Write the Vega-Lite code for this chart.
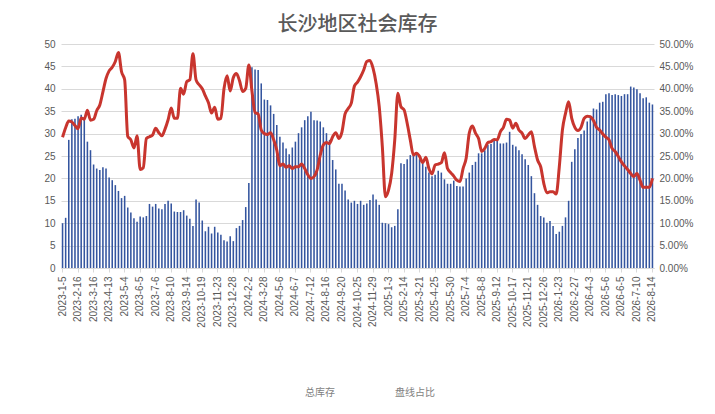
{
  "$schema": "https://vega.github.io/schema/vega-lite/v6.json",
  "width": 593,
  "height": 224,
  "autosize": {"type": "none"},
  "padding": {"left": 61, "top": 44, "right": 61, "bottom": 146},
  "background": "white",
  "title": {
    "text": "长沙地区社会库存",
    "font": "Noto Sans CJK SC",
    "fontSize": 20,
    "fontWeight": 500,
    "color": "#595959",
    "offset": 4
  },
  "config": {
    "view": {"stroke": null},
    "axis": {
      "labelFont": "Liberation Sans",
      "labelFontSize": 10,
      "labelColor": "#595959",
      "gridColor": "#D9D9D9",
      "domainColor": "#D9D9D9",
      "tickColor": "#D9D9D9"
    }
  },
  "data": {
    "values": [
      {"d": "2023-1-5", "v": 10.0, "p": 0.292},
      {"d": "2023-1-12", "v": 11.2, "p": 0.313},
      {"d": "2023-1-19", "v": 28.6, "p": 0.328},
      {"d": "2023-2-2", "v": 33.2, "p": 0.326},
      {"d": "2023-2-9", "v": 33.3, "p": 0.318},
      {"d": "2023-2-16", "v": 33.9, "p": 0.311},
      {"d": "2023-2-23", "v": 34.2, "p": 0.335},
      {"d": "2023-3-2", "v": 33.4, "p": 0.332},
      {"d": "2023-3-6", "v": 28.2, "p": 0.352},
      {"d": "2023-3-9", "v": 26.3, "p": 0.330},
      {"d": "2023-3-16", "v": 23.1, "p": 0.332},
      {"d": "2023-3-23", "v": 22.2, "p": 0.351},
      {"d": "2023-3-30", "v": 21.9, "p": 0.364},
      {"d": "2023-4-3", "v": 22.5, "p": 0.393},
      {"d": "2023-4-6", "v": 22.2, "p": 0.423},
      {"d": "2023-4-13", "v": 20.2, "p": 0.440},
      {"d": "2023-4-17", "v": 19.6, "p": 0.448},
      {"d": "2023-4-20", "v": 18.5, "p": 0.461},
      {"d": "2023-4-24", "v": 17.2, "p": 0.481},
      {"d": "2023-4-27", "v": 15.6, "p": 0.438},
      {"d": "2023-5-4", "v": 16.1, "p": 0.420},
      {"d": "2023-5-11", "v": 13.5, "p": 0.294},
      {"d": "2023-5-18", "v": 12.4, "p": 0.286},
      {"d": "2023-5-25", "v": 11.1, "p": 0.268},
      {"d": "2023-6-1", "v": 10.3, "p": 0.295},
      {"d": "2023-6-5", "v": 11.5, "p": 0.220},
      {"d": "2023-6-8", "v": 11.3, "p": 0.224},
      {"d": "2023-6-15", "v": 11.6, "p": 0.289},
      {"d": "2023-6-21", "v": 14.3, "p": 0.293},
      {"d": "2023-6-29", "v": 13.7, "p": 0.297},
      {"d": "2023-7-6", "v": 14.3, "p": 0.312},
      {"d": "2023-7-13", "v": 13.3, "p": 0.302},
      {"d": "2023-7-20", "v": 13.1, "p": 0.295},
      {"d": "2023-7-27", "v": 14.3, "p": 0.310},
      {"d": "2023-8-3", "v": 15.0, "p": 0.331},
      {"d": "2023-8-10", "v": 14.4, "p": 0.357},
      {"d": "2023-8-17", "v": 12.6, "p": 0.334},
      {"d": "2023-8-24", "v": 12.5, "p": 0.334},
      {"d": "2023-8-31", "v": 12.5, "p": 0.401},
      {"d": "2023-9-7", "v": 12.9, "p": 0.388},
      {"d": "2023-9-14", "v": 11.7, "p": 0.416},
      {"d": "2023-9-21", "v": 11.0, "p": 0.420},
      {"d": "2023-9-28", "v": 9.4, "p": 0.478},
      {"d": "2023-10-8", "v": 15.3, "p": 0.420},
      {"d": "2023-10-12", "v": 14.6, "p": 0.409},
      {"d": "2023-10-19", "v": 10.6, "p": 0.400},
      {"d": "2023-10-26", "v": 8.2, "p": 0.384},
      {"d": "2023-11-2", "v": 9.2, "p": 0.369},
      {"d": "2023-11-9", "v": 7.7, "p": 0.346},
      {"d": "2023-11-16", "v": 9.2, "p": 0.359},
      {"d": "2023-11-23", "v": 7.9, "p": 0.332},
      {"d": "2023-11-30", "v": 7.4, "p": 0.334},
      {"d": "2023-12-7", "v": 6.2, "p": 0.400},
      {"d": "2023-12-14", "v": 5.9, "p": 0.429},
      {"d": "2023-12-21", "v": 7.1, "p": 0.395},
      {"d": "2023-12-28", "v": 6.0, "p": 0.425},
      {"d": "2024-1-4", "v": 8.9, "p": 0.434},
      {"d": "2024-1-11", "v": 9.4, "p": 0.418},
      {"d": "2024-1-18", "v": 10.7, "p": 0.394},
      {"d": "2024-1-25", "v": 13.6, "p": 0.401},
      {"d": "2024-2-2", "v": 19.0, "p": 0.453},
      {"d": "2024-2-29", "v": 44.8, "p": 0.395},
      {"d": "2024-3-7", "v": 44.3, "p": 0.347},
      {"d": "2024-3-14", "v": 44.2, "p": 0.344},
      {"d": "2024-3-21", "v": 41.2, "p": 0.308},
      {"d": "2024-3-28", "v": 37.6, "p": 0.300},
      {"d": "2024-4-3", "v": 37.5, "p": 0.298},
      {"d": "2024-4-11", "v": 36.3, "p": 0.302},
      {"d": "2024-4-18", "v": 34.4, "p": 0.286},
      {"d": "2024-4-25", "v": 31.9, "p": 0.263},
      {"d": "2024-5-6", "v": 29.3, "p": 0.228},
      {"d": "2024-5-10", "v": 28.0, "p": 0.232},
      {"d": "2024-5-17", "v": 26.7, "p": 0.225},
      {"d": "2024-5-24", "v": 25.4, "p": 0.228},
      {"d": "2024-5-31", "v": 26.9, "p": 0.222},
      {"d": "2024-6-7", "v": 28.2, "p": 0.226},
      {"d": "2024-6-14", "v": 30.1, "p": 0.226},
      {"d": "2024-6-21", "v": 31.4, "p": 0.232},
      {"d": "2024-6-28", "v": 33.0, "p": 0.222},
      {"d": "2024-7-5", "v": 33.9, "p": 0.208},
      {"d": "2024-7-12", "v": 34.9, "p": 0.200},
      {"d": "2024-7-19", "v": 33.0, "p": 0.204},
      {"d": "2024-7-26", "v": 32.9, "p": 0.219},
      {"d": "2024-8-2", "v": 32.7, "p": 0.252},
      {"d": "2024-8-9", "v": 31.4, "p": 0.275},
      {"d": "2024-8-16", "v": 30.1, "p": 0.280},
      {"d": "2024-8-23", "v": 28.6, "p": 0.278},
      {"d": "2024-8-30", "v": 24.1, "p": 0.293},
      {"d": "2024-9-6", "v": 22.0, "p": 0.302},
      {"d": "2024-9-13", "v": 18.8, "p": 0.289},
      {"d": "2024-9-20", "v": 18.8, "p": 0.304},
      {"d": "2024-9-27", "v": 17.3, "p": 0.344},
      {"d": "2024-9-30", "v": 15.3, "p": 0.356},
      {"d": "2024-10-11", "v": 14.6, "p": 0.368},
      {"d": "2024-10-18", "v": 15.0, "p": 0.406},
      {"d": "2024-10-25", "v": 14.3, "p": 0.415},
      {"d": "2024-11-1", "v": 15.0, "p": 0.427},
      {"d": "2024-11-8", "v": 14.1, "p": 0.442},
      {"d": "2024-11-15", "v": 14.4, "p": 0.461},
      {"d": "2024-11-22", "v": 15.2, "p": 0.463},
      {"d": "2024-11-29", "v": 16.4, "p": 0.446},
      {"d": "2024-12-6", "v": 15.3, "p": 0.412},
      {"d": "2024-12-13", "v": 14.1, "p": 0.360},
      {"d": "2024-12-20", "v": 10.1, "p": 0.271},
      {"d": "2024-12-27", "v": 10.0, "p": 0.159},
      {"d": "2025-1-3", "v": 9.8, "p": 0.174},
      {"d": "2025-1-10", "v": 9.1, "p": 0.211},
      {"d": "2025-1-17", "v": 9.4, "p": 0.286},
      {"d": "2025-1-24", "v": 13.1, "p": 0.390},
      {"d": "2025-2-7", "v": 23.4, "p": 0.360},
      {"d": "2025-2-14", "v": 23.2, "p": 0.353},
      {"d": "2025-2-21", "v": 24.3, "p": 0.323},
      {"d": "2025-2-28", "v": 25.2, "p": 0.286},
      {"d": "2025-3-7", "v": 25.6, "p": 0.252},
      {"d": "2025-3-14", "v": 25.2, "p": 0.256},
      {"d": "2025-3-21", "v": 24.3, "p": 0.249},
      {"d": "2025-3-28", "v": 23.4, "p": 0.235},
      {"d": "2025-4-3", "v": 22.6, "p": 0.247},
      {"d": "2025-4-11", "v": 21.3, "p": 0.222},
      {"d": "2025-4-18", "v": 20.5, "p": 0.210},
      {"d": "2025-4-25", "v": 20.8, "p": 0.230},
      {"d": "2025-4-30", "v": 21.7, "p": 0.232},
      {"d": "2025-5-9", "v": 21.3, "p": 0.235},
      {"d": "2025-5-16", "v": 19.8, "p": 0.257},
      {"d": "2025-5-23", "v": 18.8, "p": 0.222},
      {"d": "2025-5-30", "v": 18.8, "p": 0.213},
      {"d": "2025-6-6", "v": 19.5, "p": 0.205},
      {"d": "2025-6-13", "v": 18.3, "p": 0.196},
      {"d": "2025-6-20", "v": 18.2, "p": 0.193},
      {"d": "2025-6-27", "v": 18.2, "p": 0.222},
      {"d": "2025-7-4", "v": 20.0, "p": 0.245},
      {"d": "2025-7-11", "v": 21.3, "p": 0.301},
      {"d": "2025-7-18", "v": 23.0, "p": 0.317},
      {"d": "2025-7-25", "v": 23.7, "p": 0.301},
      {"d": "2025-8-1", "v": 25.6, "p": 0.289},
      {"d": "2025-8-8", "v": 25.6, "p": 0.260},
      {"d": "2025-8-15", "v": 26.3, "p": 0.267},
      {"d": "2025-8-22", "v": 27.5, "p": 0.280},
      {"d": "2025-8-29", "v": 27.7, "p": 0.282},
      {"d": "2025-9-5", "v": 28.6, "p": 0.287},
      {"d": "2025-9-12", "v": 28.7, "p": 0.286},
      {"d": "2025-9-19", "v": 27.8, "p": 0.304},
      {"d": "2025-9-26", "v": 27.8, "p": 0.314},
      {"d": "2025-9-30", "v": 28.0, "p": 0.332},
      {"d": "2025-10-10", "v": 30.4, "p": 0.330},
      {"d": "2025-10-17", "v": 27.5, "p": 0.312},
      {"d": "2025-10-24", "v": 27.1, "p": 0.323},
      {"d": "2025-10-31", "v": 26.3, "p": 0.308},
      {"d": "2025-11-7", "v": 25.4, "p": 0.301},
      {"d": "2025-11-14", "v": 24.3, "p": 0.289},
      {"d": "2025-11-21", "v": 23.0, "p": 0.297},
      {"d": "2025-11-28", "v": 20.5, "p": 0.304},
      {"d": "2025-12-5", "v": 16.7, "p": 0.271},
      {"d": "2025-12-12", "v": 14.1, "p": 0.241},
      {"d": "2025-12-19", "v": 11.6, "p": 0.226},
      {"d": "2025-12-26", "v": 11.3, "p": 0.189},
      {"d": "2025-12-31", "v": 10.1, "p": 0.168},
      {"d": "2026-1-6", "v": 10.5, "p": 0.170},
      {"d": "2026-1-9", "v": 9.4, "p": 0.170},
      {"d": "2026-1-16", "v": 7.6, "p": 0.165},
      {"d": "2026-1-23", "v": 8.1, "p": 0.226},
      {"d": "2026-1-30", "v": 9.4, "p": 0.308},
      {"d": "2026-2-6", "v": 11.3, "p": 0.345},
      {"d": "2026-2-13", "v": 15.0, "p": 0.371},
      {"d": "2026-2-24", "v": 23.7, "p": 0.334},
      {"d": "2026-2-27", "v": 26.5, "p": 0.314},
      {"d": "2026-3-6", "v": 29.0, "p": 0.307},
      {"d": "2026-3-13", "v": 29.9, "p": 0.314},
      {"d": "2026-3-20", "v": 30.7, "p": 0.334},
      {"d": "2026-3-27", "v": 32.7, "p": 0.339},
      {"d": "2026-4-3", "v": 33.6, "p": 0.338},
      {"d": "2026-4-10", "v": 35.6, "p": 0.329},
      {"d": "2026-4-17", "v": 35.4, "p": 0.314},
      {"d": "2026-4-24", "v": 36.9, "p": 0.308},
      {"d": "2026-4-30", "v": 37.1, "p": 0.299},
      {"d": "2026-5-6", "v": 38.8, "p": 0.292},
      {"d": "2026-5-8", "v": 39.0, "p": 0.286},
      {"d": "2026-5-15", "v": 38.6, "p": 0.267},
      {"d": "2026-5-22", "v": 38.8, "p": 0.260},
      {"d": "2026-5-29", "v": 38.6, "p": 0.249},
      {"d": "2026-6-5", "v": 38.4, "p": 0.237},
      {"d": "2026-6-12", "v": 38.8, "p": 0.228},
      {"d": "2026-6-19", "v": 38.8, "p": 0.220},
      {"d": "2026-6-26", "v": 40.5, "p": 0.211},
      {"d": "2026-7-3", "v": 40.3, "p": 0.204},
      {"d": "2026-7-10", "v": 39.9, "p": 0.211},
      {"d": "2026-7-17", "v": 39.0, "p": 0.196},
      {"d": "2026-7-24", "v": 37.9, "p": 0.180},
      {"d": "2026-7-31", "v": 38.1, "p": 0.180},
      {"d": "2026-8-7", "v": 36.9, "p": 0.180},
      {"d": "2026-8-14", "v": 36.5, "p": 0.200}
    ]
  },
  "encoding": {
    "x": {
      "field": "d",
      "type": "ordinal",
      "sort": null,
      "title": null,
      "scale": {"paddingInner": 0.5, "paddingOuter": 0.25},
      "axis": {
        "labelAngle": -90,
        "labelPadding": 4,
        "tickSize": 4,
        "values": [
          "2023-1-5", "2023-2-16", "2023-3-16", "2023-4-13", "2023-5-4", "2023-6-5", "2023-7-6", "2023-8-10",
          "2023-9-14", "2023-10-19", "2023-11-23", "2023-12-28", "2024-2-2", "2024-3-28", "2024-5-6", "2024-6-7",
          "2024-7-12", "2024-8-16", "2024-9-20", "2024-10-25", "2024-11-29", "2025-1-3", "2025-2-14", "2025-3-21",
          "2025-4-25", "2025-5-30", "2025-7-4", "2025-8-8", "2025-9-12", "2025-10-17", "2025-11-21", "2025-12-26",
          "2026-1-23", "2026-2-27", "2026-4-3", "2026-5-6", "2026-6-5", "2026-7-10", "2026-8-14"
        ]
      }
    },
    "color": {
      "scale": {"domain": ["总库存", "盘线占比"], "range": ["#34559F", "#C8352E"]},
      "legend": {
        "title": null,
        "orient": "none",
        "direction": "horizontal",
        "legendX": 234,
        "legendY": 344,
        "symbolSize": 0,
        "symbolStrokeWidth": 0,
        "labelOffset": 0,
        "columnPadding": 50,
        "labelFont": "Noto Sans CJK SC",
        "labelFontSize": 10,
        "labelColor": "#7F7F7F"
      }
    }
  },
  "layer": [
    {
      "mark": {"type": "bar"},
      "encoding": {
        "y": {
          "field": "v",
          "type": "quantitative",
          "title": null,
          "scale": {"domain": [0, 50], "nice": false},
          "axis": {
            "values": [0, 5, 10, 15, 20, 25, 30, 35, 40, 45, 50],
            "domain": false,
            "ticks": false,
            "labelPadding": 6
          }
        },
        "color": {"datum": "总库存"}
      }
    },
    {
      "mark": {"type": "line", "strokeWidth": 3, "interpolate": "monotone"},
      "encoding": {
        "y": {
          "field": "p",
          "type": "quantitative",
          "title": null,
          "scale": {"domain": [0, 0.5], "nice": false},
          "axis": {
            "orient": "right",
            "format": ".2%",
            "values": [0, 0.05, 0.1, 0.15, 0.2, 0.25, 0.3, 0.35, 0.4, 0.45, 0.5],
            "grid": false,
            "domain": false,
            "ticks": false,
            "labelPadding": 5
          }
        },
        "color": {"datum": "盘线占比"}
      }
    }
  ],
  "resolve": {"scale": {"y": "independent"}}
}
